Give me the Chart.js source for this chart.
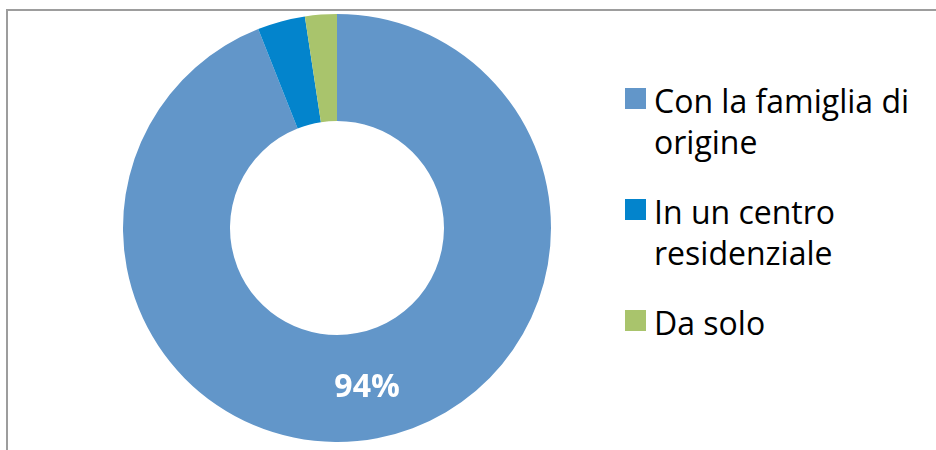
<!DOCTYPE HTML><html>
<head>
  <meta name="viewport" content="width=device-width, initial-scale=1">
  <script src="https://cdn.jsdelivr.net/npm/chart.js"></script>
  <style>
    html, body {
      margin: 0;
      padding: 0;
      width: 936px;
      height: 450px;
      overflow: hidden;
      background: #fff;
      font-family: "Open Sans", sans-serif;
    }
    .frame {
      position: absolute;
      left: 6px;
      top: 9px;
      width: 1000px;
      height: 600px;
      border: 2px solid #9d9d9d;
    }
    .pie {
      position: absolute;
      left: 123px;
      top: 14px;
      width: 428px;
      height: 428px;
    }
    #legend {
      position: absolute;
      left: 625px;
      top: 80px;
      margin: 0;
      padding: 0;
      list-style: none;
    }
    #legend li {
      display: flex;
      align-items: flex-start;
      margin-bottom: 29px;
      font-size: 32px;
      line-height: 41px;
      color: #000;
    }
    #legend .box {
      width: 21px;
      height: 21px;
      margin-top: 8px;
      margin-right: 8px;
      flex: none;
    }
  </style>
</head>
<body>
  <div class="frame"></div>
  <div class="pie"><canvas id="livingChart"></canvas></div>
  <ul id="legend"></ul>
<script>
  const categories = [
    ['Con la famiglia di', 'origine'],
    ['In un centro', 'residenziale'],
    ['Da solo']
  ];
  const shares = [94, 3.6, 2.4];
  const colors = ['#6296c9', '#0384cc', '#a9c46c'];

  // white percentage text on the big slice only
  const sliceLabel = {
    id: 'sliceLabel',
    afterDatasetsDraw(chart) {
      const ctx = chart.ctx;
      const arc = chart.getDatasetMeta(0).data[0];
      const pos = arc.tooltipPosition();
      ctx.save();
      ctx.fillStyle = '#ffffff';
      ctx.font = 'bold 32px "Open Sans"';
      ctx.textAlign = 'center';
      ctx.textBaseline = 'middle';
      ctx.fillText(Math.round(shares[0]) + '%', pos.x, pos.y + 2);
      ctx.restore();
    }
  };

  const ctx = document.getElementById('livingChart').getContext('2d');
  const livingChart = new Chart(ctx, {
    type: 'doughnut',
    data: {
      labels: categories,
      datasets: [{
        data: shares,
        backgroundColor: colors,
        borderWidth: 0
      }]
    },
    options: {
      responsive: true,
      maintainAspectRatio: false,
      animation: false,
      cutout: '50%',
      layout: { padding: 0 },
      plugins: {
        legend: { display: false },
        tooltip: { enabled: false }
      }
    },
    plugins: [sliceLabel]
  });

  // legend built from the same arrays
  const legend = document.getElementById('legend');
  categories.forEach((lines, i) => {
    const li = document.createElement('li');
    const box = document.createElement('span');
    box.className = 'box';
    box.style.background = colors[i];
    const txt = document.createElement('span');
    txt.innerHTML = lines.join('<br>');
    li.appendChild(box);
    li.appendChild(txt);
    legend.appendChild(li);
  });
</script>
</body>
</html>
